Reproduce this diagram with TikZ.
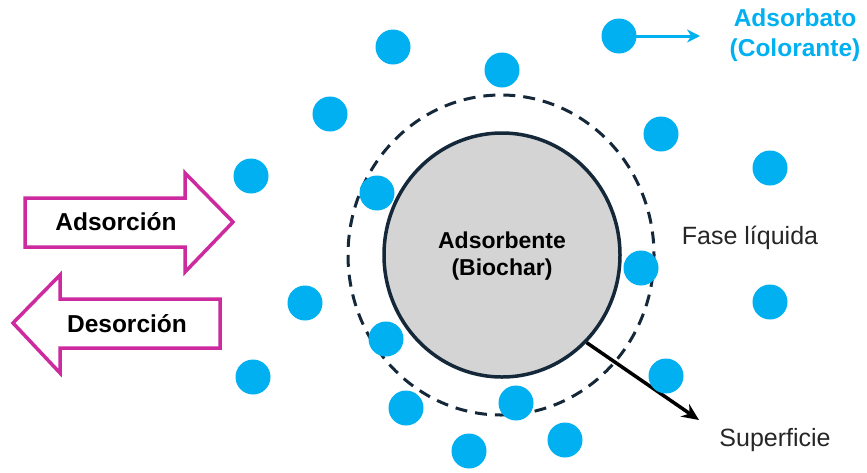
\documentclass[tikz,border=0pt]{standalone}
\usepackage{fontspec}
\setmainfont{Liberation Sans}
\usetikzlibrary{shapes.geometric,arrows.meta}
\definecolor{dotblue}{HTML}{00B0F0}
\definecolor{magarrow}{HTML}{CC2A9E}
\definecolor{navy}{HTML}{14283A}
\definecolor{coregray}{HTML}{D4D4D4}
\tikzset{
  dot/.style={circle,fill=dotblue,draw=none,minimum size=35pt,inner sep=0pt},
  bigarrow/.style={draw=magarrow,line width=3.5pt,fill=white,line join=miter},
  lbl/.style={font=\fontsize{24.5}{27}\selectfont\bfseries,text=black},
  plain/.style={font=\fontsize{25}{28}\selectfont,text=black!85},
}
\begin{document}
\begin{tikzpicture}[x=1pt,y=-1pt]
\useasboundingbox (0,0) rectangle (867,472);
% liquid film boundary
\draw[navy,line width=3pt,dash pattern=on 12pt off 8pt] (501,255) ellipse [x radius=153, y radius=160];
% adsorbent particle
\node[ellipse,draw=navy,line width=3.5pt,fill=coregray,minimum width=236pt,minimum height=244pt,inner sep=0pt] (core) at (502,255) {};
\node[align=center,font=\fontsize{23}{27}\selectfont\bfseries] (coretxt) at (502,256) {Adsorbente\\(Biochar)};
% surface arrow
\coordinate (surfend) at (699,420);
\draw[black,line width=3.5pt,-{Stealth[length=17pt,width=15pt]}] (core.-46) -- (surfend);
\node[plain] (surf) at (775,440) {Superficie};
% fluid phase label
\node[plain] (fase) at (750,238) {Fase líquida};
% adsorcion arrow
\draw[bigarrow] (25,198) -- (185,198) -- (185,173) -- (233,222) -- (185,272) -- (185,247) -- (25,247) -- cycle;
\node[lbl] (ads) at (116,222) {Adsorción};
% desorcion arrow
\draw[bigarrow] (220,299) -- (60,299) -- (60,275) -- (13,323) -- (60,373) -- (60,348) -- (220,348) -- cycle;
\node[lbl] (des) at (127,324) {Desorción};
% dots
\foreach \n/\x/\y in {1/393/47,2/502/70,3/619/36,4/330/114,5/661/134,6/251/176,7/770/168,8/377/193,9/641/268,10/305/303,11/770/302,12/386/339,13/253/377,14/666/376,15/406/408,16/516/403,17/469/451,18/565/440}
  \node[dot] (d\n) at (\x,\y) {};
% legend
\coordinate (legend) at (700,36);
\draw[dotblue,line width=3pt,-{Stealth[length=13pt,width=13pt]}] (d3.center) -- (legend);
\node[font=\fontsize{24.5}{30}\selectfont\bfseries,text=dotblue,align=center] (adsorbato) at (795,35) {Adsorbato\\(Colorante)};
\end{tikzpicture}
\end{document}
